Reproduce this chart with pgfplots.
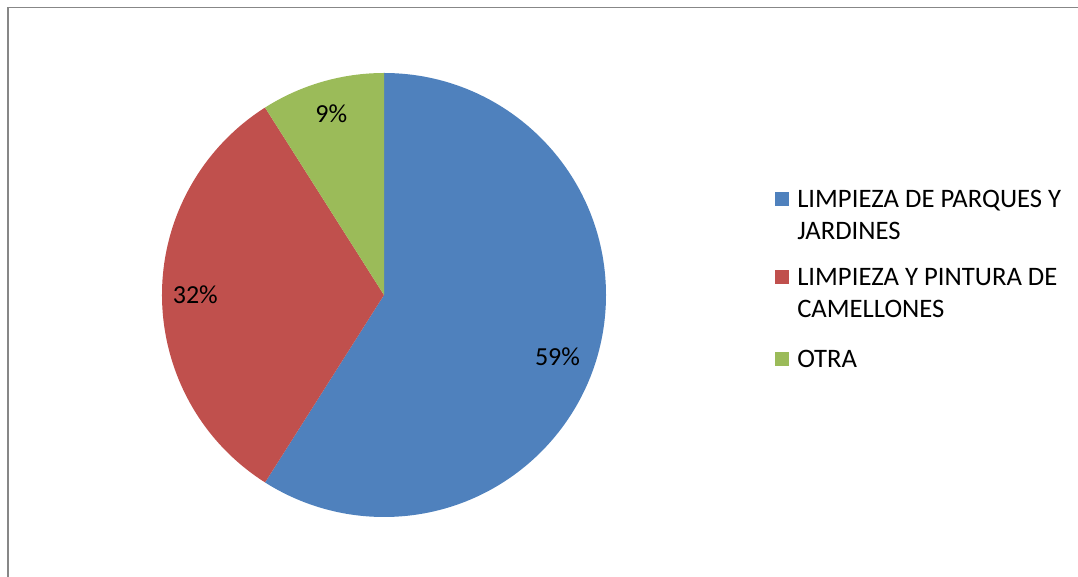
\documentclass[border=0pt]{standalone}
\usepackage{pgfplots}
\pgfplotsset{compat=1.18}
\usepackage{pgfplotstable}
\usepackage{fontspec}
\setmainfont{Carlito}

\definecolor{cBlue}{HTML}{4F81BD}
\definecolor{cRed}{HTML}{C0504D}
\definecolor{cGreen}{HTML}{9BBB59}
\definecolor{frameGray}{HTML}{878787}

% share (%), colour, label radius, label angle shift
\pgfplotstableread{
val color lr  ld
59  cBlue  0.83 -3.5
32  cRed   0.85 0
9   cGreen 0.85 0
}\piedata

% reference pixel (x from left, y from top) -> point on the page
\def\px#1#2{({#1*0.75pt},{(577-#2)*0.75pt})}

\begin{document}
\begin{tikzpicture}
\useasboundingbox (0,0) rectangle (808.5pt,432.75pt);
\draw[frameGray, line width=1.2pt] \px{7.8}{577} -- \px{7.8}{7.5} -- \px{1078}{7.5};

\begin{axis}[
    at={(288pt,211.5pt)}, anchor=origin,
    x=166.5pt, y=166.5pt,
    xmin=-1, xmax=1, ymin=-1, ymax=1,
    hide axis, clip=false,
]
\def\a{90}
\pgfplotsforeachungrouped \i in {0,1,2} {
    \pgfplotstablegetelem{\i}{val}\of\piedata \let\v\pgfplotsretval
    \pgfplotstablegetelem{\i}{color}\of\piedata \let\c\pgfplotsretval
    \pgfplotstablegetelem{\i}{lr}\of\piedata \let\r\pgfplotsretval
    \pgfplotstablegetelem{\i}{ld}\of\piedata \let\d\pgfplotsretval
    \pgfmathsetmacro\b{\a-\v*3.6}
    \pgfmathsetmacro\m{(\a+\b)/2+\d}
    \edef\next{%
        \noexpand\fill[\c] (axis cs:0,0) -- (axis cs:{cos(\a)},{sin(\a)})
            arc[start angle=\a, end angle=\b, radius=166.5pt] -- cycle;
        \noexpand\node[font=\noexpand\fontsize{19.5}{23}\noexpand\selectfont, inner sep=0pt]
            at (axis cs:{\r*cos(\m)},{\r*sin(\m)}) {\v\noexpand\%};
    }%
    \next
    \let\a\b
}
\end{axis}

% legend
\begin{scope}[every node/.style={anchor=base west, inner sep=0pt, font=\fontsize{20}{24}\selectfont}]
\fill[cBlue]  \px{774.5}{192} rectangle \px{788.5}{206};
\node at \px{797}{207.7} {LIMPIEZA DE PARQUES Y};
\node at \px{797}{239.3} {JARDINES};
\fill[cRed]   \px{774.5}{270} rectangle \px{788.5}{284};
\node at \px{797}{285.7} {LIMPIEZA Y PINTURA DE};
\node at \px{797}{317.5} {CAMELLONES};
\fill[cGreen] \px{774.5}{352} rectangle \px{788.5}{366};
\node at \px{797}{367.3} {OTRA};
\end{scope}
\end{tikzpicture}
\end{document}
